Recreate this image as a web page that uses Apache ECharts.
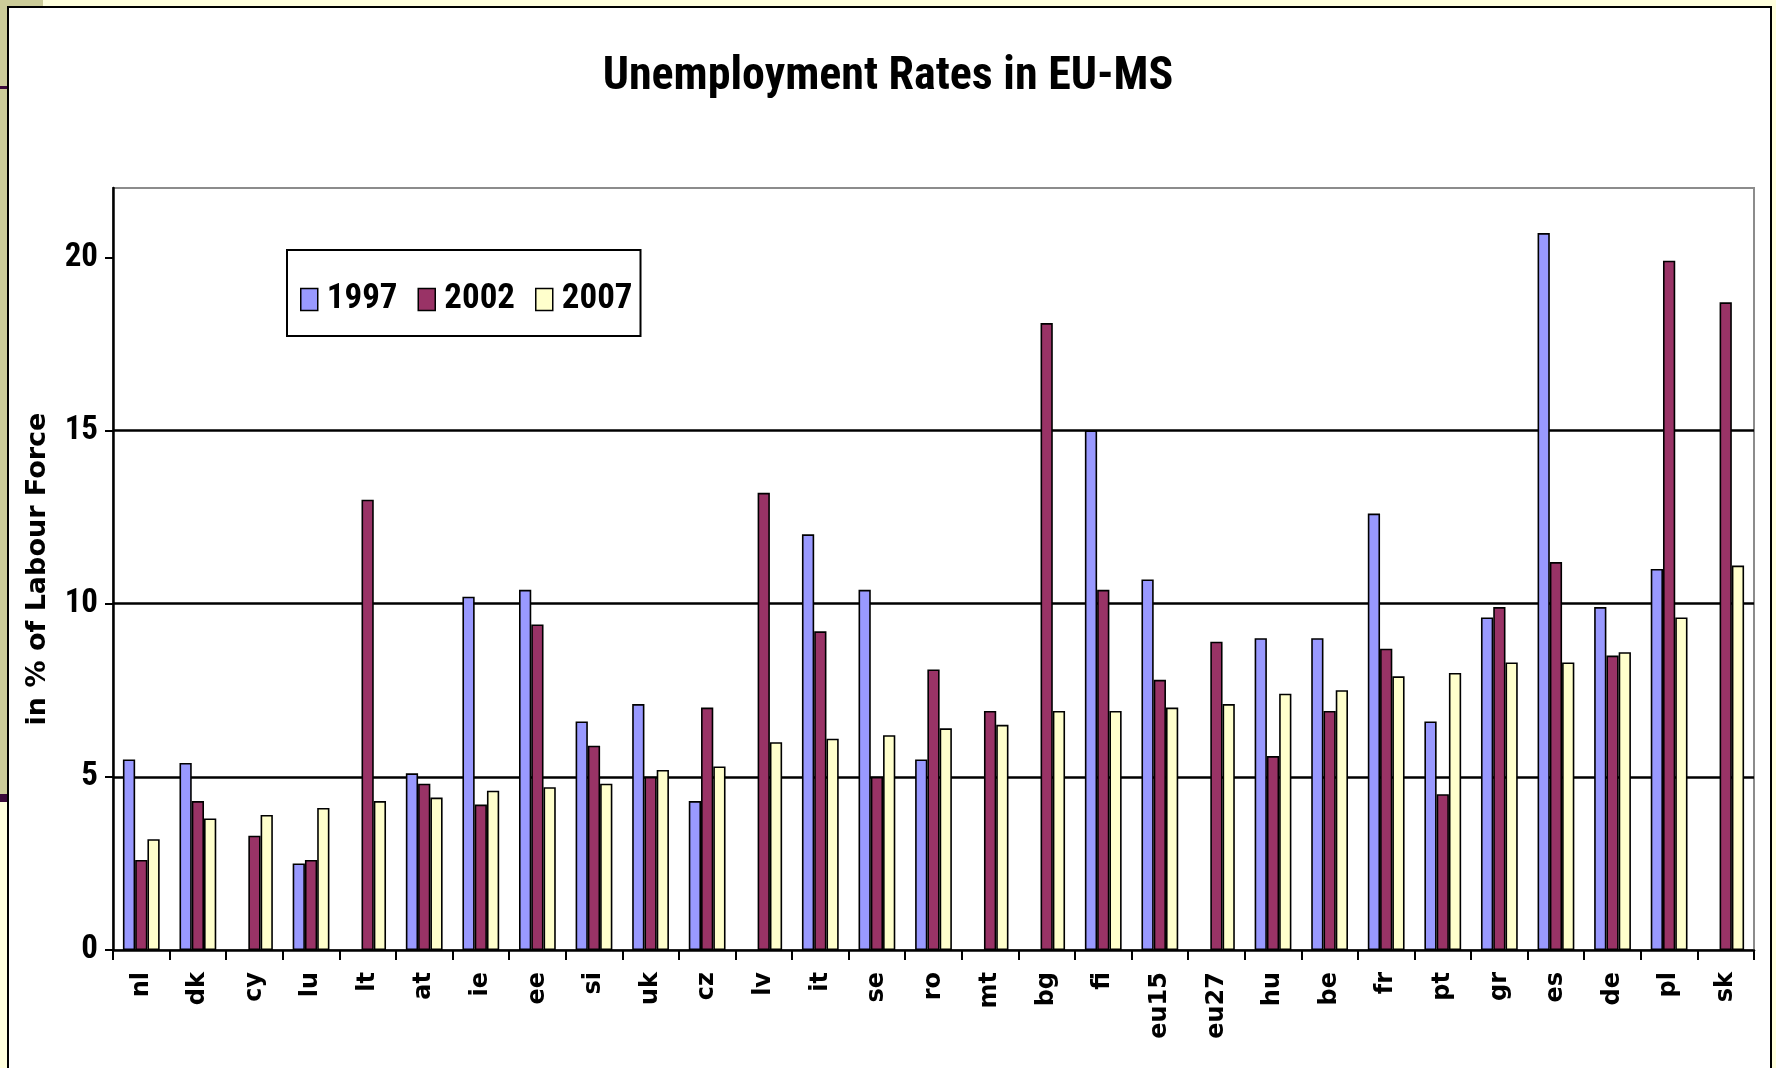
<!DOCTYPE html>
<html>
<head>
<meta charset="utf-8">
<script src="https://cdn.jsdelivr.net/npm/echarts@6/dist/echarts.min.js"></script>
<style>
  html, body { margin: 0; padding: 0; width: 1776px; height: 1068px; overflow: hidden; background: #FFFFDD; }
  #wrap { position: relative; width: 1776px; height: 1068px; }
  .deco { position: absolute; }
  #chart { position: absolute; left: 0; top: 0; width: 1776px; height: 1068px; }
</style>
</head>
<body>
<div id="wrap">
  <div class="deco" style="left:0;top:0;width:43px;height:7px;background:#CCCC99;"></div>
  <div class="deco" style="left:0;top:0;width:8px;height:795px;background:#CCCC99;"></div>
  <div class="deco" style="left:0;top:86px;width:8px;height:3px;background:#3A0A3A;"></div>
  <div class="deco" style="left:0;top:794px;width:8px;height:8px;background:#3A0A3A;"></div>
  <div class="deco" style="left:7px;top:6px;width:1761px;height:1100px;background:#FFFFFF;border:2.5px solid #000;"></div>
  <div id="chart"></div>
</div>
<script>
const categories = ['nl','dk','cy','lu','lt','at','ie','ee','si','uk','cz','lv','it','se','ro','mt','bg','fi','eu15','eu27','hu','be','fr','pt','gr','es','de','pl','sk'];
const seriesNames = ['1997', '2002', '2007'];
const values1997 = [5.5, 5.4, null, 2.5, null, 5.1, 10.2, 10.4, 6.6, 7.1, 4.3, null, 12.0, 10.4, 5.5, null, null, 15.0, 10.7, null, 9.0, 9.0, 12.6, 6.6, 9.6, 20.7, 9.9, 11.0, null];
const values2002 = [2.6, 4.3, 3.3, 2.6, 13.0, 4.8, 4.2, 9.4, 5.9, 5.0, 7.0, 13.2, 9.2, 5.0, 8.1, 6.9, 18.1, 10.4, 7.8, 8.9, 5.6, 6.9, 8.7, 4.5, 9.9, 11.2, 8.5, 19.9, 18.7];
const values2007 = [3.2, 3.8, 3.9, 4.1, 4.3, 4.4, 4.6, 4.7, 4.8, 5.2, 5.3, 6.0, 6.1, 6.2, 6.4, 6.5, 6.9, 6.9, 7.0, 7.1, 7.4, 7.5, 7.9, 8.0, 8.3, 8.3, 8.6, 9.6, 11.1];
const yTicks = [0, 5, 10, 15, 20];
const colors = ['#9999FF', '#993366', '#FFFFCC'];

// pick the narrowest installed condensed family
function fontAvailable(name) {
  const c = document.createElement('canvas').getContext('2d');
  const sample = 'Unemployment Rates 1997 2002';
  c.font = 'bold 40px monospace';
  const w0 = c.measureText(sample).width;
  c.font = 'bold 40px serif';
  const w1 = c.measureText(sample).width;
  c.font = "bold 40px '" + name + "', monospace";
  const a = c.measureText(sample).width;
  c.font = "bold 40px '" + name + "', serif";
  const b = c.measureText(sample).width;
  return a !== w0 || b !== w1;
}
const candidates = ['Liberation Sans Narrow', 'Arial Narrow', 'Noto Sans ExtraCondensed', 'Noto Sans Condensed', 'Roboto Condensed', 'Open Sans Condensed', 'Noto Sans SemiCondensed', 'DejaVu Sans Condensed'];
let narrowName = 'DejaVu Sans Condensed';
for (const f of candidates) { if (fontAvailable(f)) { narrowName = f; break; } }
const narrow = "'" + narrowName + "', sans-serif";
const wide = "'DejaVu Sans', 'Liberation Sans', sans-serif";

const chart = echarts.init(document.getElementById('chart'), null, { renderer: 'canvas' });
const allValues = [values1997, values2002, values2007];

chart.setOption({
  backgroundColor: 'transparent',
  animation: false,
  title: {
    text: 'Unemployment Rates in EU-MS',
    left: 'center',
    top: 49,
    textStyle: { fontFamily: narrow, fontWeight: 'bold', fontSize: 46, color: '#000' }
  },
  legend: {
    data: seriesNames,
    left: 287,
    top: 250,
    orient: 'horizontal',
    icon: 'rect',
    padding: [32, 8, 19, 13],
    itemGap: 20,
    itemWidth: 17,
    itemHeight: 22,
    borderColor: '#000',
    borderWidth: 2,
    backgroundColor: '#fff',
    itemStyle: { borderColor: '#000', borderWidth: 1.5 },
    textStyle: { fontFamily: narrow, fontWeight: 'bold', fontSize: 35, color: '#000', padding: [0, 0, 0, 4] }
  },
  grid: {
    left: 113, right: 22, top: 188, bottom: 118,
    show: true, borderColor: '#8C8C8C', borderWidth: 2, backgroundColor: 'transparent'
  },
  xAxis: {
    type: 'category',
    data: categories,
    boundaryGap: true,
    axisLine: { lineStyle: { color: '#000', width: 2.5 } },
    axisTick: { show: true, length: 10, alignWithLabel: false, lineStyle: { color: '#000', width: 2 } },
    axisLabel: { rotate: 90, margin: 22, interval: 0, fontFamily: wide, fontWeight: 'bold', fontSize: 24, color: '#000' },
    splitLine: { show: false }
  },
  yAxis: {
    type: 'value',
    min: 0,
    max: 22,
    interval: 5,
    name: 'in % of Labour Force',
    nameLocation: 'middle',
    nameRotate: 90,
    nameGap: 62,
    nameTextStyle: { fontFamily: wide, fontWeight: 'bold', fontSize: 27, color: '#000' },
    axisLine: { show: true, lineStyle: { color: '#000', width: 2.5 } },
    axisTick: { show: true, length: 8, customValues: yTicks, lineStyle: { color: '#000', width: 2 } },
    axisLabel: { margin: 15, customValues: yTicks, fontFamily: narrow, fontWeight: 'bold', fontSize: 33, color: '#000' },
    splitLine: { show: true, showMaxLine: false, showMinLine: false, lineStyle: { color: '#000', width: 2.5 } }
  },
  series: seriesNames.map((name, i) => ({
    name: name,
    type: 'bar',
    data: allValues[i],
    barGap: '0%',
    barCategoryGap: '35%',
    itemStyle: { color: colors[i], borderColor: '#000', borderWidth: 1.6 }
  }))
});
</script>
</body>
</html>
